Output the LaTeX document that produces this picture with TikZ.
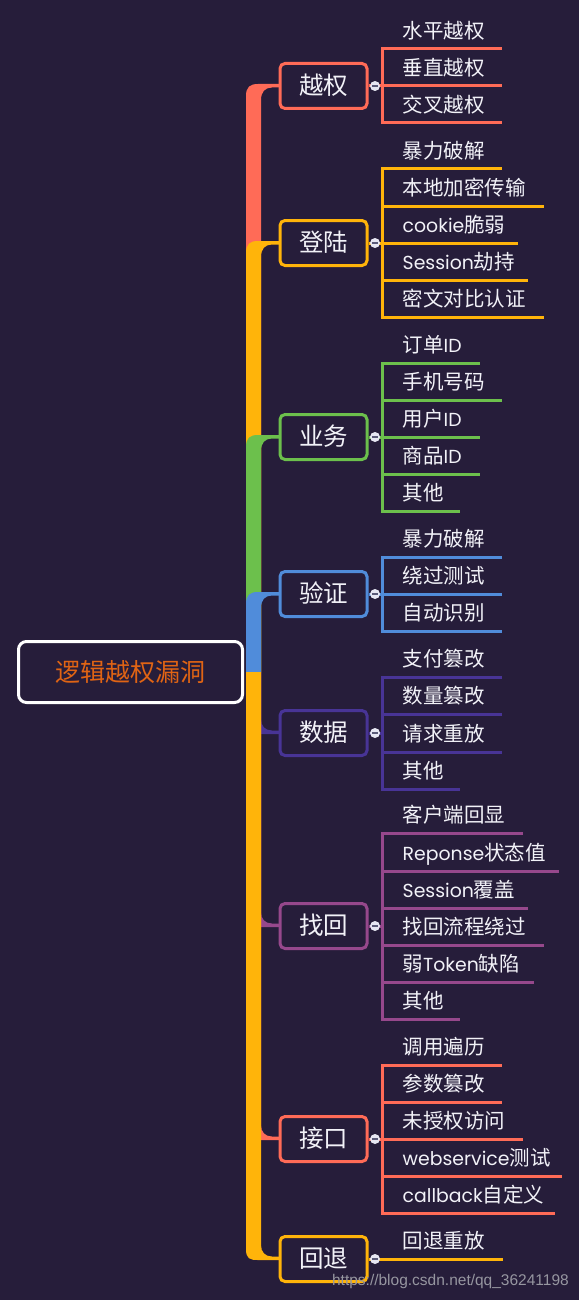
\documentclass[tikz,border=0pt]{standalone}
\usepackage{fontspec}
\setmainfont{Noto Sans CJK SC}
\newfontfamily\lat[Scale=0.92]{Poppins}
\newfontfamily\wmfont{Liberation Sans}
\definecolor{bg}{RGB}{38,29,58}
\definecolor{txt}{RGB}{242,242,248}
\definecolor{cred}{RGB}{255,107,87}
\definecolor{cyel}{RGB}{255,180,10}
\definecolor{cgrn}{RGB}{108,192,76}
\definecolor{cblu}{RGB}{80,140,218}
\definecolor{cind}{RGB}{72,52,150}
\definecolor{cplm}{RGB}{150,72,140}
\definecolor{rootorange}{RGB}{224,100,20}
\definecolor{knob}{RGB}{230,230,242}
\definecolor{knobline}{RGB}{90,90,120}
\definecolor{wmgray}{RGB}{150,150,160}
\tikzset{
  leaftext/.style={anchor=west, inner sep=0pt, text=txt,
    font=\fontsize{20.5}{24}\selectfont, text height=18pt, text depth=2.5pt},
  catbox/.style={draw=#1, line width=3pt, rounded corners=5pt, fill=bg,
    minimum width=87pt, minimum height=45pt, inner sep=0pt, text=txt,
    font=\fontsize{24.5}{28}\selectfont, text height=20pt, text depth=3pt},
  rootbox/.style={draw=white, line width=3pt, rounded corners=8pt, fill=bg,
    minimum width=224pt, minimum height=61pt, inner sep=0pt, text=rootorange,
    font=\fontsize{25}{30}\selectfont, text height=21pt, text depth=3pt},
  thin/.style={draw=#1, line width=3pt},
}
\newcommand\upbranch[2]{%
  \fill[#1] (246,672) -- (246,#2+10) .. controls (246,#2+1) and (250,#2-2) .. (258,#2-2)
    -- (280,#2-2) -- (280,#2+1.5) -- (272,#2+1.5)
    .. controls (265,#2+1.5) and (261,#2+6) .. (261,#2+14) -- (261,672) -- cycle;}
\newcommand\downbranch[2]{%
  \fill[#1] (246,672) -- (246,#2-10) .. controls (246,#2) and (250,#2+1) .. (258,#2+1)
    -- (280,#2+1) -- (280,#2-2.5) -- (272,#2-2.5)
    .. controls (265,#2-2.5) and (261,#2-7) .. (261,#2-14) -- (261,672) -- cycle;}
% category: name, label, colour, cy, first underline y, last underline y
\newcommand\category[6]{%
  \node[catbox=#3] (#1) at (323.5,#4) {#2};
  \coordinate (#1-top) at (382,#5);
  \coordinate (#1-bot) at (382,#6);
  \coordinate (#1-j) at (382,#4);
  \draw[thin=#3] (#1.east) -- (#1-j);
  \draw[thin=#3, line cap=rect] (#1-top) -- (#1-bot);
  \node[circle, fill=knob, minimum size=10pt, inner sep=0pt] (#1-k) at (375,#4) {};
  \draw[knobline, line width=1.2pt] ([xshift=-2.8pt]#1-k.center) -- ([xshift=2.8pt]#1-k.center);
}
% leaf: name, colour, text, underline y, end x
\newcommand\leaf[5]{%
  \coordinate (#1-s) at (382,#4);
  \coordinate (#1-e) at (#5,#4);
  \draw[thin=#2] (#1-s) -- (#1-e);
  \node[leaftext] (#1) at (402.5,#4-18) {#3};
}
\begin{document}
\begin{tikzpicture}[x=1pt,y=-1pt]
\fill[bg] (0,0) rectangle (579,1300);
\useasboundingbox (0,0) rectangle (579,1300);

% trunk branches, drawn in order
\upbranch{cred}{86}
\upbranch{cyel}{243}
\upbranch{cgrn}{437}
\upbranch{cblu}{594}
\downbranch{cind}{733}
\downbranch{cplm}{926}
\downbranch{cred}{1139}
\downbranch{cyel}{1259}

% root
\node[rootbox] (root) at (130.5,672) {逻辑越权漏洞};

% 越权
\category{yq}{越权}{cred}{86}{49}{123}
\leaf{yq1}{cred}{水平越权}{49}{502}
\leaf{yq2}{cred}{垂直越权}{86}{502}
\leaf{yq3}{cred}{交叉越权}{123}{502}

% 登陆
\category{dl}{登陆}{cyel}{243}{169}{317}
\leaf{dl1}{cyel}{暴力破解}{169}{502}
\leaf{dl2}{cyel}{本地加密传输}{206}{544}
\leaf{dl3}{cyel}{{\lat cookie}脆弱}{243}{518}
\leaf{dl4}{cyel}{{\lat Session}劫持}{280}{528}
\leaf{dl5}{cyel}{密文对比认证}{317}{544}

% 业务
\category{yw}{业务}{cgrn}{437}{363}{511}
\leaf{yw1}{cgrn}{订单{\lat ID}}{363}{480}
\leaf{yw2}{cgrn}{手机号码}{400}{502}
\leaf{yw3}{cgrn}{用户{\lat ID}}{437}{480}
\leaf{yw4}{cgrn}{商品{\lat ID}}{474}{480}
\leaf{yw5}{cgrn}{其他}{511}{460}

% 验证
\category{yz}{验证}{cblu}{594}{557}{631}
\leaf{yz1}{cblu}{暴力破解}{557}{502}
\leaf{yz2}{cblu}{绕过测试}{594}{502}
\leaf{yz3}{cblu}{自动识别}{631}{502}

% 数据
\category{sj}{数据}{cind}{733}{677}{789}
\leaf{sj1}{cind}{支付篡改}{677}{502}
\leaf{sj2}{cind}{数量篡改}{714}{502}
\leaf{sj3}{cind}{请求重放}{752}{502}
\leaf{sj4}{cind}{其他}{789}{460}

% 找回
\category{zh}{找回}{cplm}{926}{833}{1019}
\leaf{zh1}{cplm}{客户端回显}{833}{523}
\leaf{zh2}{cplm}{{\lat Reponse}状态值}{871}{559}
\leaf{zh3}{cplm}{{\lat Session}覆盖}{908}{528}
\leaf{zh4}{cplm}{找回流程绕过}{945}{544}
\leaf{zh5}{cplm}{弱{\lat Token}缺陷}{982}{534}
\leaf{zh6}{cplm}{其他}{1019}{460}

% 接口
\category{jk}{接口}{cred}{1139}{1065}{1213}
\leaf{jk1}{cred}{调用遍历}{1065}{502}
\leaf{jk2}{cred}{参数篡改}{1102}{502}
\leaf{jk3}{cred}{未授权访问}{1139}{523}
\leaf{jk4}{cred}{{\lat webservice}测试}{1176}{562}
\leaf{jk5}{cred}{{\lat callback}自定义}{1213}{555}

% 回退
\category{ht}{回退}{cyel}{1259}{1259}{1259}
\leaf{ht1}{cyel}{回退重放}{1259}{503}

% watermark
\node[anchor=east, inner sep=0pt, text=wmgray, font=\wmfont\fontsize{15.5}{18}\selectfont] (wm) at (569,1281) {https://blog.csdn.net/qq\_36241198};
\end{tikzpicture}
\end{document}
